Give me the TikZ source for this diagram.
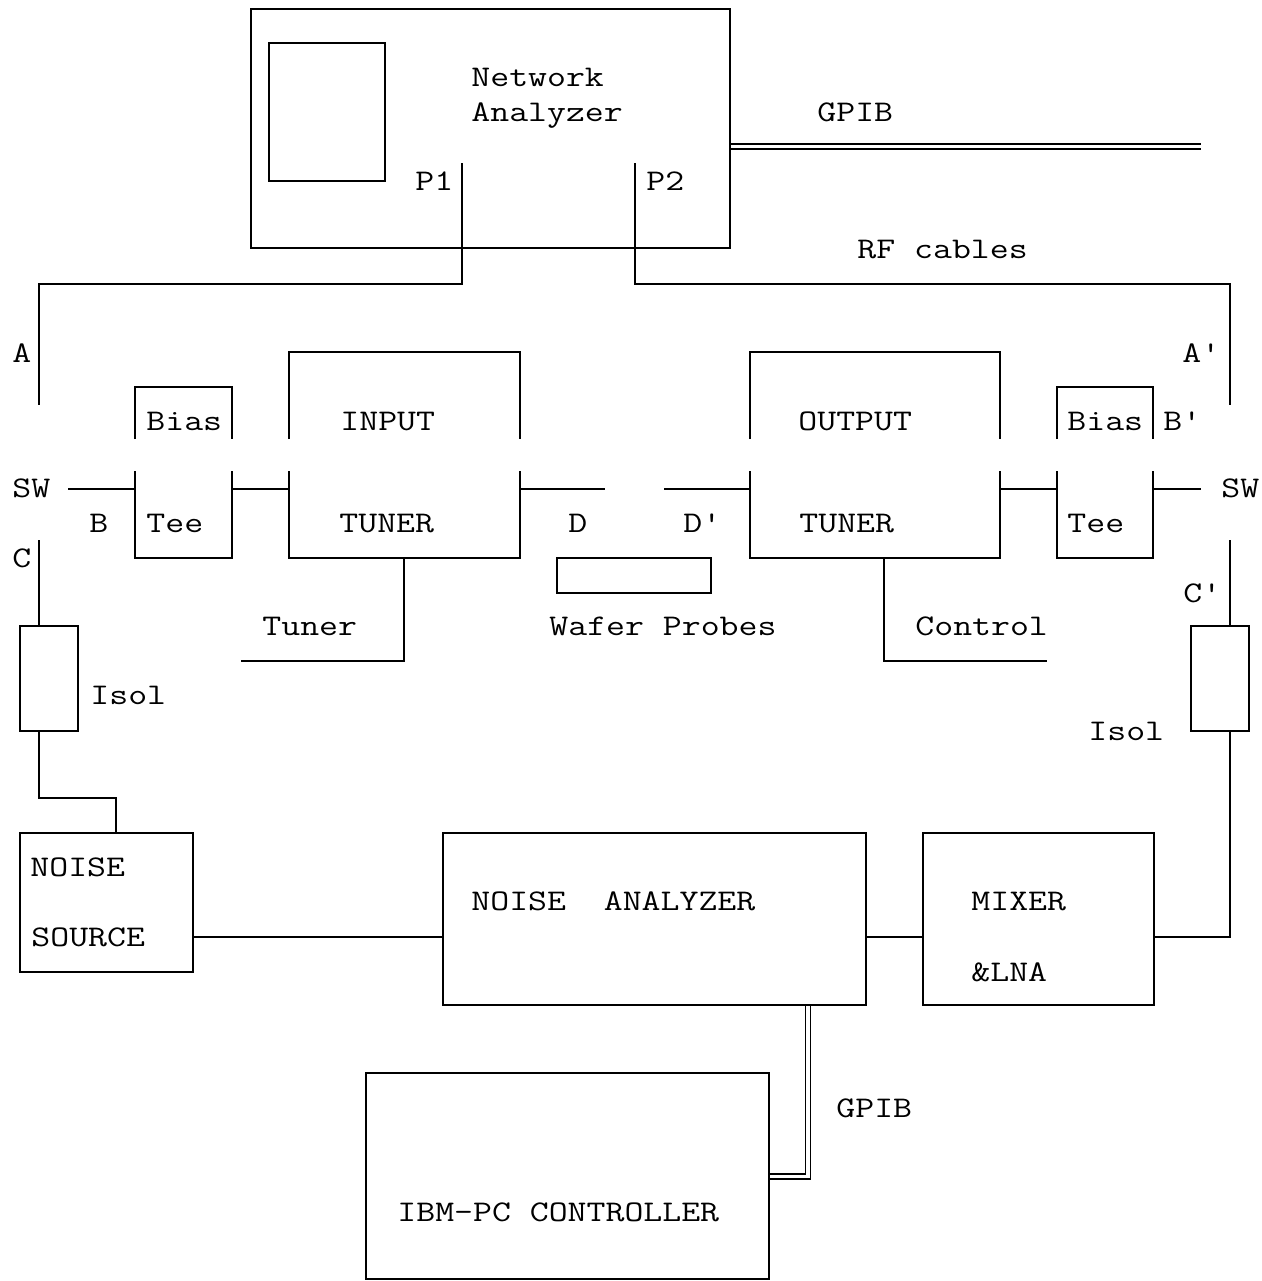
\documentclass[tikz,border=0pt]{standalone}
\usetikzlibrary{fit}
\newcommand\sx[1]{\scalebox{1.225}[1]{#1}}
\begin{document}
\begin{tikzpicture}[x=0.5pt,y=-0.5pt,
  ln/.style={line width=1.15pt},
  box/.style={draw, line width=1.15pt, inner sep=0pt},
  dbl/.style={double, line width=0.95pt, double distance=1.55pt},
  lbl/.style={anchor=west, inner sep=0pt, text height=9.2pt, text depth=0pt,
              font=\fontsize{15}{17}\selectfont\ttfamily}]
\useasboundingbox (0,0) rectangle (1262,1281);

% ---------- boxes ----------
\node[box, fit={(251,9) (730,248)}] (na) {};
\node[box, fit={(269,43) (385,181)}] (screen) {};
\node[box, fit={(557,558) (711,593)}] (wafer) {};
\node[box, fit={(20,626) (78,731)}] (isolL) {};
\node[box, fit={(1191,626) (1249,731)}] (isolR) {};
\node[box, fit={(20,833) (193,972)}] (nsrc) {};
\node[box, fit={(443,833) (866,1005)}] (nan) {};
\node[box, fit={(923,833) (1154,1005)}] (mix) {};
\node[box, fit={(366,1073) (769,1279)}] (ibm) {};

% open-sided boxes (bias tees and tuners)
\coordinate (btL1) at (135,387); \coordinate (btL2) at (232,558);
\coordinate (itu1) at (289,352); \coordinate (itu2) at (520,558);
\coordinate (otu1) at (750,352); \coordinate (otu2) at (1000,558);
\coordinate (btR1) at (1057,387); \coordinate (btR2) at (1153,558);
\coordinate (gapT) at (0,439); \coordinate (gapB) at (0,471);
\foreach \a/\b in {btL1/btL2, itu1/itu2, otu1/otu2, btR1/btR2}{
  \draw[ln] (\a |- gapT) -- (\a) -- (\b |- \a) -- (\b |- gapT);
  \draw[ln] (\a |- gapB) -- (\a |- \b) -- (\b) -- (\b |- gapB);
}

% ---------- RF cables from network analyzer ----------
\coordinate (p1) at (462,163); \coordinate (p2) at (635,163);
\coordinate (cab) at (0,284);
\coordinate (aL) at (39,405); \coordinate (aR) at (1230,405);
\draw[ln] (p1) -- (p1 |- cab) -| (aL);
\draw[ln] (p2) -- (p2 |- cab) -| (aR);

% GPIB top
\coordinate (gpib1) at (1201,146.5);
\draw[dbl] (na.east |- gpib1) -- (gpib1);

% ---------- main RF line ----------
\coordinate (rf) at (0,489);
\coordinate (swL) at (68,489); \coordinate (swR) at (1201,489);
\coordinate (dL) at (605,489); \coordinate (dR) at (664,489);
\draw[ln] (swL) -- (btL1 |- rf);
\draw[ln] (btL2 |- rf) -- (itu1 |- rf);
\draw[ln] (itu2 |- rf) -- (dL);
\draw[ln] (dR) -- (otu1 |- rf);
\draw[ln] (otu2 |- rf) -- (btR1 |- rf);
\draw[ln] (btR2 |- rf) -- (swR);

% tuner controls
\coordinate (tcL) at (241,661); \coordinate (tcR) at (1047,661);
\draw[ln] (404,558) -- (404,661) -- (tcL);
\draw[ln] (884,558) -- (884,661) -- (tcR);

% ---------- noise paths ----------
\coordinate (cL) at (39,540); \coordinate (cR) at (1230,540);
\draw[ln] (cL) -- (cL |- isolL.north);
\draw[ln] (cL |- isolL.south) -- (39,798) -| (nsrc.north -| 116,0);
\draw[ln] (cR) -- (cR |- isolR.north);
\coordinate (nl) at (0,937);
\draw[ln] (cR |- isolR.south) |- (mix.east |- nl);
\draw[ln] (nsrc.east |- nl) -- (nan.west |- nl);
\draw[ln] (nan.east |- nl) -- (mix.west |- nl);

% GPIB bottom
\coordinate (g2) at (808,1176.5);
\draw[dbl] (nan.south -| g2) -- (g2) -- (ibm.east |- g2);

% ---------- labels ----------
\node[lbl] (tNet) at (471,77) {\sx{Network}};
\node[lbl] (tAna) at (471,112) {\sx{Analyzer}};
\node[lbl] (tP1) at (415,181) {\sx{P1}};
\node[lbl] (tP2) at (646,181) {\sx{P2}};
\node[lbl] (tG1) at (817,112) {\sx{GPIB}};
\node[lbl] (tRF) at (857,249) {\sx{RF~cables}};
\node[lbl] (tA) at (12,353) {\sx{A}};
\node[lbl] (tA2) at (1182,353) {\sx{A'}};
\node[lbl] (tBias1) at (146,421) {\sx{Bias}};
\node[lbl] (tTee1) at (146,523) {\sx{Tee}};
\node[lbl] (tBias2) at (1067,421) {\sx{Bias}};
\node[lbl] (tTee2) at (1067,523) {\sx{Tee}};
\node[lbl] (tB2) at (1163,421) {\sx{B'}};
\node[lbl] (tIn) at (340,421) {\sx{INPUT}};
\node[lbl] (tTu1) at (339,523) {\sx{TUNER}};
\node[lbl] (tOut) at (798,421) {\sx{OUTPUT}};
\node[lbl] (tTu2) at (799,523) {\sx{TUNER}};
\node[lbl] (tSW1) at (12,488) {\sx{SW}};
\node[lbl] (tSW2) at (1221,488) {\sx{SW}};
\node[lbl] (tB) at (89,523) {\sx{B}};
\node[lbl] (tC) at (12,558) {\sx{C}};
\node[lbl] (tC2) at (1183,593) {\sx{C'}};
\node[lbl] (tD) at (568,523) {\sx{D}};
\node[lbl] (tD2) at (683,523) {\sx{D'}};
\node[lbl] (tTuner) at (262,626) {\sx{Tuner}};
\node[lbl] (tWafer) at (549,626) {\sx{Wafer~Probes}};
\node[lbl] (tCtl) at (915,626) {\sx{Control}};
\node[lbl] (tIsol1) at (90,695) {\sx{Isol}};
\node[lbl] (tIsol2) at (1088,731) {\sx{Isol}};
\node[lbl] (tNoise) at (30,867) {\sx{NOISE}};
\node[lbl] (tSrc) at (31,937) {\sx{SOURCE}};
\node[lbl] (tNA) at (471,901) {\sx{NOISE~~ANALYZER}};
\node[lbl] (tMix) at (971,901) {\sx{MIXER}};
\node[lbl] (tLNA) at (971,972) {\sx{\&LNA}};
\node[lbl] (tG2) at (836,1108) {\sx{GPIB}};
\node[lbl] (tIBM) at (397,1212) {\sx{IBM-PC CONTROLLER}};
\end{tikzpicture}
\end{document}
